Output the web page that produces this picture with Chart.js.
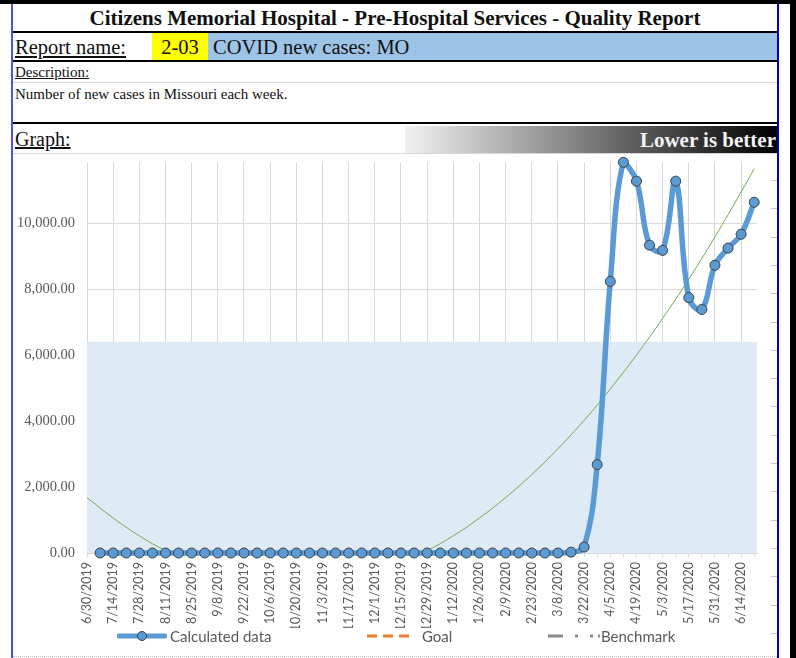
<!DOCTYPE html>
<html>
<head>
<meta charset="utf-8">
<script src="https://cdn.jsdelivr.net/npm/chart.js@4.4.1/dist/chart.umd.min.js"></script>
<style>
  body { margin: 0; width: 796px; height: 658px; position: relative; overflow: hidden; background: #fff; font-family: "Liberation Serif", "Times New Roman", serif; color: #111; }
  .abs { position: absolute; }
  .black { background: #000; }
  .u { text-decoration: underline; }
  .lg { font-family: Lato, sans-serif; font-size: 15px; color: #595959; line-height: 18px; white-space: nowrap; }
</style>
</head>
<body>
<!-- frame -->
<div class="abs black" style="left:0;top:0;width:796px;height:4px"></div>
<div class="abs black" style="left:790px;top:0;width:6px;height:658px"></div>
<div class="abs" style="left:11px;top:4px;width:2px;height:654px;background:#5252dc"></div>
<div class="abs" style="left:777px;top:4px;width:2px;height:654px;background:#0000cc"></div>

<!-- header rows -->
<div class="abs" style="left:13px;top:4px;width:764px;height:27px;line-height:28px;text-align:center;font-weight:bold;font-size:21px">Citizens Memorial Hospital - Pre-Hospital Services - Quality Report</div>
<div class="abs black" style="left:13px;top:31px;width:764px;height:2px"></div>

<div class="abs u" style="left:15px;top:33px;height:27px;line-height:29px;font-size:20.5px">Report name:</div>
<div class="abs" style="left:152px;top:33px;width:56px;height:27px;line-height:29px;font-size:20.5px;background:#ffff00;text-align:center">2-03</div>
<div class="abs" style="left:208px;top:33px;width:564px;height:27px;line-height:29px;font-size:20.5px;background:#9dc3e6;padding-left:5px">COVID new cases: MO</div>
<div class="abs black" style="left:13px;top:60px;width:764px;height:2px"></div>

<div class="abs u" style="left:15px;top:64px;line-height:16px;font-size:15px">Description:</div>
<div class="abs" style="left:13px;top:82px;width:764px;height:1px;background:#d6d6d6"></div>
<div class="abs" style="left:15px;top:85px;line-height:18px;font-size:15px">Number of new cases in Missouri each week.</div>
<div class="abs black" style="left:13px;top:122px;width:764px;height:2px"></div>

<div class="abs u" style="left:15px;top:124px;height:29px;line-height:31px;font-size:20px">Graph:</div>
<div class="abs" style="left:405px;top:126px;width:371px;height:27px;line-height:28px;padding-right:1px;text-align:right;font-weight:bold;font-size:21px;color:#f4f4f4;background:linear-gradient(to right,#f2f2f2,#000)">Lower is better</div>
<div class="abs" style="left:13px;top:153px;width:764px;height:1px;background:#d6d6d6"></div>

<!-- sheet row lines visible right of the chart, dotted cell border below -->
<div class="abs" style="left:771px;top:154px;width:6px;height:500px;background:repeating-linear-gradient(to bottom,transparent 0,transparent 26px,#c8c8c8 26px,#c8c8c8 27px,transparent 27px,transparent 28.3px)"></div>
<div class="abs" style="left:13px;top:656px;width:764px;height:0;border-top:1px dotted #c0c0c0"></div>

<div class="abs" style="left:13px;top:154px;width:757px;height:501px">
  <canvas id="grafico"></canvas>
</div>

<!-- legend -->
<svg class="abs" style="left:117px;top:630px" width="50" height="12">
  <line x1="2" y1="6" x2="48" y2="6" stroke="#5b9bd5" stroke-width="5" stroke-linecap="round"/>
  <circle cx="25" cy="6" r="4.5" fill="#5b9bd5" stroke="#3f3f3f" stroke-width="1"/>
</svg>
<div class="abs lg" style="left:170px;top:627px">Calculated data</div>
<svg class="abs" style="left:367px;top:630px" width="46" height="12">
  <line x1="0" y1="6" x2="46" y2="6" stroke="#ed7d31" stroke-width="3" stroke-dasharray="10,6"/>
</svg>
<div class="abs lg" style="left:422px;top:627px">Goal</div>
<svg class="abs" style="left:548px;top:630px" width="52" height="12">
  <line x1="0" y1="6" x2="52" y2="6" stroke="#8c8c8c" stroke-width="3" stroke-dasharray="15,12,3,12,3,5"/>
</svg>
<div class="abs lg" style="left:601px;top:627px">Benchmark</div>

<script>
const weekDates = [
    '6/30/2019', '7/7/2019', '7/14/2019', '7/21/2019', '7/28/2019', '8/4/2019', '8/11/2019', '8/18/2019',
    '8/25/2019', '9/1/2019', '9/8/2019', '9/15/2019', '9/22/2019', '9/29/2019', '10/6/2019', '10/13/2019',
    '10/20/2019', '10/27/2019', '11/3/2019', '11/10/2019', '11/17/2019', '11/24/2019', '12/1/2019', '12/8/2019',
    '12/15/2019', '12/22/2019', '12/29/2019', '1/5/2020', '1/12/2020', '1/19/2020', '1/26/2020', '2/2/2020',
    '2/9/2020', '2/16/2020', '2/23/2020', '3/1/2020', '3/8/2020', '3/15/2020', '3/22/2020', '3/29/2020',
    '4/5/2020', '4/12/2020', '4/19/2020', '4/26/2020', '5/3/2020', '5/10/2020', '5/17/2020', '5/24/2020',
    '5/31/2020', '6/7/2020', '6/14/2020', '6/21/2020'
];

// weekly new cases (no value for the first week)
const newCases = [
    null, 0, 0, 0, 0, 0, 0, 0,
    0, 0, 0, 0, 0, 0, 0, 0,
    0, 0, 0, 0, 0, 0, 0, 0,
    0, 0, 0, 0, 0, 0, 0, 0,
    0, 0, 0, 0, 0, 25, 180, 2680,
    8230, 11840, 11270, 9330, 9170, 11270, 7740, 7380,
    8720, 9240, 9660, 10630
];

// green trend line, read every two weeks plus the last week
const trendDates = weekDates.filter((d, i) => i % 2 === 0 || i === weekDates.length - 1);
const trendValues = [
    1680, 1060, 520, 70, -300, -590, -790, -920, -960, -920, -790, -590, -300,
    70, 520, 1060, 1680, 2380, 3160, 4020, 4970, 6000, 7110, 8300, 9580, 10940, 11650
];

const yTicks = [0, 2000, 4000, 6000, 8000, 10000];
const bandValue = 6400;
const yMax = 11850;

function dayOf(s) {
    const p = s.split('/').map(Number);
    const start = weekDates[0].split('/').map(Number);
    return (Date.UTC(p[2], p[0] - 1, p[1]) - Date.UTC(start[2], start[0] - 1, start[1])) / 86400000;
}

const xMin = dayOf(weekDates[0]);
const xMax = dayOf(weekDates[weekDates.length - 1]) + 1.5;

const ctx = document.getElementById('grafico').getContext('2d');

const grafico = new Chart(ctx, {
    type: 'line',
    data: {
        datasets: [
            {
                label: 'Calculated data',
                data: newCases.map((v, i) => ({ x: dayOf(weekDates[i]), y: v })),
                borderColor: '#5B9BD5',
                borderWidth: 5.5,
                pointRadius: 5,
                pointBackgroundColor: '#5B9BD5',
                pointBorderColor: '#3F3F3F',
                pointBorderWidth: 1,
                tension: 0.4,
                clip: false
            },
            {
                label: 'Trend',
                data: trendValues.map((v, i) => ({ x: dayOf(trendDates[i]), y: v })),
                borderColor: '#70AD47',
                borderWidth: 1,
                pointRadius: 0,
                tension: 0.4
            },
            {
                label: 'Goal',
                data: [],
                borderColor: '#ED7D31',
                borderDash: [10, 6]
            },
            {
                label: 'Benchmark',
                data: [],
                borderColor: '#8C8C8C'
            },
            {
                label: 'band',
                data: [{ x: xMin, y: bandValue }, { x: xMax, y: bandValue }],
                backgroundColor: '#DEEAF6',
                borderWidth: 0,
                pointRadius: 0,
                fill: 'origin'
            }
        ]
    },
    options: {
        responsive: true,
        maintainAspectRatio: false,
        animation: false,
        layout: { padding: { left: 0, right: 13, top: 8, bottom: 27 } },
        plugins: {
            legend: { display: false },
            tooltip: { enabled: false }
        },
        scales: {
            x: {
                type: 'linear',
                min: xMin,
                max: xMax,
                afterBuildTicks: (scale) => {
                    scale.ticks = weekDates.map(d => ({ value: dayOf(d) }));
                },
                afterFit: (scale) => {
                    scale.height = 75;
                    scale.paddingLeft = 0;
                    scale.paddingRight = 0;
                },
                ticks: {
                    autoSkip: false,
                    maxRotation: 90,
                    minRotation: 90,
                    padding: 5,
                    color: '#595959',
                    font: { family: 'Lato', size: 12.5 },
                    callback: (value, index) => index % 2 === 0 ? weekDates[index] : ''
                },
                grid: {
                    color: (c) => c.index % 2 === 0 ? '#D9D9D9' : 'rgba(0,0,0,0)',
                    tickColor: '#D9D9D9',
                    tickLength: 4
                },
                border: { color: '#D9D9D9' }
            },
            y: {
                min: 0,
                max: yMax,
                afterBuildTicks: (scale) => {
                    scale.ticks = yTicks.map(v => ({ value: v }));
                },
                afterFit: (scale) => {
                    scale.width = 74;
                    scale.paddingTop = 0;
                    scale.paddingBottom = 0;
                },
                ticks: {
                    padding: 12,
                    color: '#595959',
                    font: { family: 'Liberation Serif', size: 14.5 },
                    callback: (v) => v.toLocaleString('en-US', { minimumFractionDigits: 2, maximumFractionDigits: 2 })
                },
                grid: { color: '#D9D9D9', drawTicks: false },
                border: { display: false }
            }
        }
    }
});
</script>
</body>
</html>
